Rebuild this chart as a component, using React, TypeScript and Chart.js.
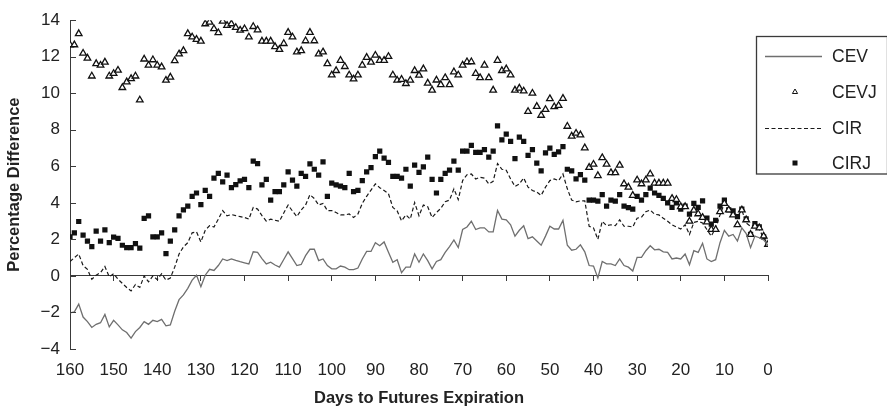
import React, { useEffect, useRef } from "react";
import { Chart, registerables } from "chart.js";

Chart.register(...registerables);

// Days to futures expiration (x categories), 160 down to 0
const days: number[] = Array.from({ length: 161 }, (_, i) => 160 - i);

const seriesNames = ["CEV", "CEVJ", "CIR", "CIRJ"];
const xTitle = "Days to Futures Expiration";
const yTitle = "Percentage Difference";

// Values listed from day 160 down to day 0
const CEV = [
  -2.02, -1.97, -1.54, -2.25, -2.5, -2.82, -2.65, -2.56, -2.11, -2.79,
  -2.43, -2.68, -2.95, -3.1, -3.4, -3.05, -2.82, -2.5, -2.65, -2.43,
  -2.5, -2.38, -2.73, -2.68, -1.93, -1.3, -1.04, -0.68, -0.23, 0.04,
  -0.59, 0.04, 0.36, 0.3, 0.57, 0.93, 0.84, 0.93, 0.85, 0.78,
  0.72, 0.66, 1.32, 1.29, 0.95, 0.66, 0.75, 0.6, 0.48, 0.9,
  1.32, 0.95, 0.57, 0.63, 1.11, 1.46, 1.46, 0.84, 0.93, 0.57,
  0.39, 0.39, 0.54, 0.48, 0.34, 0.34, 0.43, 0.93, 1.34, 1.34,
  1.82, 1.65, 1.86, 1.29, 0.75, 0.89, 0.18, 0.48, 0.48, 1.2,
  0.75, 1.2, 0.84, 0.39, 0.79, 0.89, 1.29, 1.61, 1.97, 1.55,
  2.54, 2.68, 2.99, 2.54, 2.63, 2.63, 2.41, 2.41, 3.58, 3.11,
  3.07, 2.8, 2.18, 2.5, 2.75, 2.04, 2.14, 1.91, 1.68, 2.18,
  2.72, 2.57, 2.57, 3.04, 1.68, 1.41, 1.46, 1.7, 1.32, 0.57,
  0.54, -0.11, 0.79, 0.66, 0.66, 0.57, 0.93, 0.57, 0.48, 0.27,
  1.02, 1.02, 1.38, 1.65, 1.43, 1.46, 1.32, 1.29, 0.93, 0.98,
  0.93, 1.2, 0.61, 1.38, 1.29, 1.79, 0.93, 0.79, 0.89, 1.82,
  2.5, 2.18, 2.27, 1.91, 2.63, 2.32, 1.55, 2.18, 2.09, 1.97,
  1.68,
];

const CEVJ = [
  12.65, 12.65, 13.26, 12.19, 11.92, 10.94, 11.62, 11.53, 11.7, 10.94,
  11.08, 11.26, 10.31, 10.62, 10.8, 10.94, 9.63, 11.87, 11.53, 11.83,
  11.53, 11.44, 10.71, 10.88, 11.78, 12.15, 12.33, 13.26, 13.08, 12.95,
  12.85, 13.8, 13.89, 13.53, 13.31, 13.94, 13.71, 13.8, 13.6, 13.45,
  13.53, 13.08, 13.65, 13.47, 12.85, 12.85, 12.85, 12.55, 12.4, 12.72,
  13.33, 13.08, 12.26, 12.33, 12.87, 13.33, 12.87, 12.15, 12.26, 11.62,
  11.0, 11.24, 11.8, 11.46, 11.0, 10.78, 11.0, 11.54, 11.96, 11.7,
  12.08, 11.8, 11.8, 12.01, 11.0, 10.71, 10.76, 10.53, 10.71, 11.24,
  10.99, 11.33, 10.55, 10.17, 10.72, 10.47, 10.85, 10.47, 11.17, 11.0,
  11.54, 11.72, 11.72, 11.08, 10.85, 11.54, 10.85, 10.17, 11.8, 11.24,
  11.33, 11.0, 10.17, 10.28, 10.12, 9.0, 10.0, 9.28, 8.79, 9.11,
  9.7, 9.26, 9.33, 9.72, 8.19, 7.65, 7.81, 7.72, 7.01, 5.94,
  6.11, 5.49, 6.47, 6.11, 5.65, 5.65, 6.06, 5.04, 4.86, 4.41,
  5.25, 5.04, 5.25, 5.58, 5.08, 5.08, 5.08, 5.08, 4.24, 4.18,
  3.79, 3.79, 2.99, 3.6, 3.4, 3.2, 2.95, 2.54, 2.54, 3.52,
  3.97, 3.61, 3.34, 2.8, 3.61, 3.07, 2.27, 2.72, 2.63, 2.18,
  1.73,
];

const CIR = [
  0.79, 1.0, 1.2, 0.57, 0.36, -0.18, 0.04, 0.18, 0.52, -0.05,
  0.12, -0.18, -0.41, -0.63, -0.82, -0.47, -0.63, 0.0, -0.32, 0.0,
  -0.2, 0.12, -0.23, -0.11, 0.48, 1.2, 1.59, 1.82, 2.36, 2.41,
  1.86, 2.5, 2.75, 2.68, 3.11, 3.58, 3.29, 3.36, 3.3, 3.25,
  3.2, 3.11, 3.75, 3.66, 3.3, 3.0, 3.11, 3.05, 2.99, 3.45,
  3.88, 3.55, 3.25, 3.61, 3.88, 4.45, 4.24, 3.88, 3.97, 3.58,
  3.58, 3.47, 3.34, 3.34, 3.39, 3.2, 3.39, 3.97, 4.36, 4.7,
  5.04, 4.83, 4.68, 4.5, 3.75, 3.56, 3.02, 3.34, 3.11, 4.02,
  3.29, 3.88, 3.79, 3.2, 3.47, 3.7, 4.06, 4.15, 4.77, 4.18,
  5.22, 5.54, 5.58, 5.31, 5.4, 5.35, 5.04, 5.18, 6.15, 5.84,
  5.79, 5.31, 4.9, 5.04, 5.36, 4.86, 4.68, 4.59, 4.41, 4.86,
  5.22, 5.31, 5.22, 5.58, 4.77, 4.15, 4.06, 4.11, 4.11, 2.72,
  2.63, 2.0, 2.99, 2.75, 2.8, 2.75, 3.07, 2.72, 2.72, 2.68,
  3.16, 3.22, 3.52, 3.61, 3.38, 3.34, 3.16, 2.99, 2.8, 2.68,
  2.57, 2.8, 2.27, 2.93, 2.99, 2.9, 2.54, 2.18, 2.63, 3.34,
  3.97, 3.52, 3.61, 3.25, 3.61, 2.9, 2.72, 2.8, 2.54, 2.09,
  1.73,
];

const CIRJ = [
  2.14, 2.36, 2.98, 2.24, 1.91, 1.61, 2.45, 1.91, 2.52, 1.82,
  2.13, 2.05, 1.68, 1.55, 1.55, 1.77, 1.52, 3.15, 3.29, 2.14,
  2.14, 2.36, 1.22, 1.91, 2.52, 3.29, 3.61, 3.82, 4.36, 4.54,
  3.91, 4.68, 4.36, 5.36, 5.61, 5.15, 5.52, 4.84, 5.0, 5.2,
  5.29, 4.84, 6.29, 6.15, 4.99, 5.29, 4.15, 4.61, 4.61, 4.99,
  5.7, 5.25, 4.92, 5.61, 5.45, 6.13, 5.84, 5.52, 6.24, 4.36,
  5.08, 4.99, 4.92, 4.84, 5.61, 4.61, 4.68, 5.22, 5.7, 5.93,
  6.53, 6.83, 6.45, 6.22, 5.45, 5.45, 5.36, 5.84, 4.92, 6.06,
  5.67, 5.97, 6.51, 5.29, 4.54, 5.29, 5.61, 5.79, 6.29, 5.79,
  6.83, 6.83, 7.15, 6.76, 6.76, 6.92, 6.51, 6.83, 8.22, 7.45,
  7.76, 7.36, 6.42, 7.6, 7.36, 6.6, 6.92, 6.18, 5.75, 6.74,
  7.0, 6.65, 6.79, 7.08, 5.84, 5.75, 5.31, 5.54, 5.25, 4.15,
  4.15, 4.09, 4.45, 3.82, 4.15, 4.09, 4.45, 3.82, 3.74, 3.66,
  4.36, 4.15, 4.45, 4.81, 4.54, 4.41, 4.24, 4.0, 3.75, 4.0,
  3.66, 3.82, 3.38, 3.97, 3.75, 4.11, 3.16, 2.83, 3.04, 3.82,
  4.15, 3.61, 3.56, 3.25, 3.66, 3.13, 2.27, 2.86, 2.68, 2.14,
  1.73,
];

const FONT = "'Liberation Sans', Arial, Helvetica, sans-serif";
const AXIS = "#3a3a3a";
const TEXT = "#222222";

const toPoints = (vals: number[]) => days.map((d, i) => ({ x: d, y: vals[i] }));

const inwardYTicks = {
  id: "inwardYTicks",
  afterDraw(chart: any) {
    const y = chart.scales.y;
    const ctx = chart.ctx;
    const left = chart.chartArea.left;
    ctx.save();
    ctx.strokeStyle = AXIS;
    ctx.lineWidth = 1;
    y.ticks.forEach((t: any) => {
      const py = Math.round(y.getPixelForValue(t.value)) + 0.5;
      ctx.beginPath();
      ctx.moveTo(left, py);
      ctx.lineTo(left + 6, py);
      ctx.stroke();
    });
    ctx.restore();
  },
};

const boxLegend = {
  id: "boxLegend",
  afterDraw(chart: any) {
    const ctx = chart.ctx;
    const bx = 756.5;
    const by = 36.5;
    const bw = 131;
    const bh = 137.5;
    ctx.save();
    ctx.fillStyle = "#ffffff";
    ctx.fillRect(bx, by, bw, bh);
    ctx.strokeStyle = AXIS;
    ctx.lineWidth = 1.3;
    ctx.strokeRect(bx, by, bw, bh);
    const rows = [56, 92, 128, 163];
    const ds = chart.data.datasets;
    ds.forEach((d: any, i: number) => {
      const yy = rows[i];
      if (d.showLine !== false) {
        ctx.strokeStyle = d.borderColor;
        ctx.lineWidth = d.borderWidth;
        ctx.setLineDash(d.borderDash || []);
        ctx.beginPath();
        ctx.moveTo(765, yy + 0.5);
        ctx.lineTo(822, yy + 0.5);
        ctx.stroke();
        ctx.setLineDash([]);
      } else if (d.pointStyle === "triangle") {
        ctx.strokeStyle = d.pointBorderColor;
        ctx.lineWidth = 1;
        ctx.beginPath();
        ctx.moveTo(795, yy - 3);
        ctx.lineTo(797.6, yy + 1.5);
        ctx.lineTo(792.4, yy + 1.5);
        ctx.closePath();
        ctx.stroke();
      } else {
        ctx.fillStyle = d.pointBackgroundColor;
        ctx.fillRect(792.5, yy - 2.5, 5, 5);
      }
      ctx.fillStyle = TEXT;
      ctx.font = `17.5px ${FONT}`;
      ctx.textBaseline = "middle";
      ctx.textAlign = "left";
      ctx.fillText(d.label, 832, yy + 1);
    });
    ctx.restore();
  },
};

export default function App() {
  const ref = useRef<HTMLCanvasElement>(null);

  useEffect(() => {
    const canvas = ref.current;
    if (!canvas) return;
    const chart = new Chart(canvas, {
      type: "line",
      data: {
        datasets: [
          {
            label: seriesNames[0],
            data: toPoints(CEV),
            borderColor: "#6f6f6f",
            borderWidth: 1.3,
            pointRadius: 0,
            tension: 0,
            fill: false,
          },
          {
            label: seriesNames[1],
            data: toPoints(CEVJ),
            showLine: false,
            pointStyle: "triangle",
            pointRadius: 3.8,
            pointBorderWidth: 1.3,
            pointBorderColor: "#111111",
            pointBackgroundColor: "#ffffff",
            borderColor: "#111111",
            backgroundColor: "#ffffff",
          },
          {
            label: seriesNames[2],
            data: toPoints(CIR),
            borderColor: "#1a1a1a",
            borderWidth: 1.2,
            borderDash: [4, 2.5],
            pointRadius: 0,
            tension: 0,
            fill: false,
          },
          {
            label: seriesNames[3],
            data: toPoints(CIRJ),
            showLine: false,
            pointStyle: "rect",
            pointRadius: 3.7,
            pointBorderWidth: 0,
            pointBackgroundColor: "#111111",
            pointBorderColor: "#111111",
            borderColor: "#111111",
            backgroundColor: "#111111",
          },
        ],
      },
      options: {
        responsive: false,
        maintainAspectRatio: false,
        devicePixelRatio: 1,
        animation: false,
        layout: { padding: { top: 13, right: 119, bottom: 0, left: 0 } },
        plugins: {
          legend: { display: false },
          tooltip: { enabled: false },
          title: { display: false },
        },
        scales: {
          x: {
            type: "linear",
            min: 0,
            max: 160,
            reverse: true,
            position: "bottom",
            border: { display: false },
            grid: { display: false, drawTicks: false },
            ticks: {
              stepSize: 10,
              padding: 11,
              color: TEXT,
              autoSkip: false,
              maxRotation: 0,
              font: { family: FONT, size: 17 },
            },
            title: {
              display: true,
              text: xTitle,
              color: TEXT,
              font: { family: FONT, size: 16.5, weight: "bold" },
              padding: { top: 0, bottom: 5 },
            },
            afterFit: (s: any) => {
              s.height = 64;
            },
          },
          xZero: {
            type: "linear",
            min: 0,
            max: 160,
            reverse: true,
            position: { y: 0 },
            ticks: { display: false, stepSize: 10 },
            grid: {
              drawOnChartArea: false,
              drawTicks: true,
              tickLength: 5,
              color: AXIS,
              lineWidth: 1,
            },
            border: { display: true, color: AXIS, width: 1 },
          },
          y: {
            type: "linear",
            min: -4,
            max: 14,
            position: "left",
            border: { display: true, color: AXIS, width: 1 },
            grid: { drawOnChartArea: false, drawTicks: false },
            ticks: {
              stepSize: 2,
              padding: 10,
              color: TEXT,
              font: { family: FONT, size: 17 },
              callback: (v: any) => String(v).replace("-", "\u2212"),
            },
            title: {
              display: true,
              text: yTitle,
              color: TEXT,
              font: { family: FONT, size: 16.5, weight: "bold" },
              padding: { top: 5, bottom: 0 },
            },
            afterFit: (s: any) => {
              s.width = 70;
            },
          },
        },
      } as any,
      plugins: [inwardYTicks, boxLegend],
    });
    return () => chart.destroy();
  }, []);

  return (
    <div
      style={{
        position: "fixed",
        left: 0,
        top: 0,
        width: 887,
        height: 413,
        background: "#ffffff",
      }}
    >
      <canvas
        ref={ref}
        width={887}
        height={413}
        style={{ display: "block", width: 887, height: 413 }}
      />
    </div>
  );
}
